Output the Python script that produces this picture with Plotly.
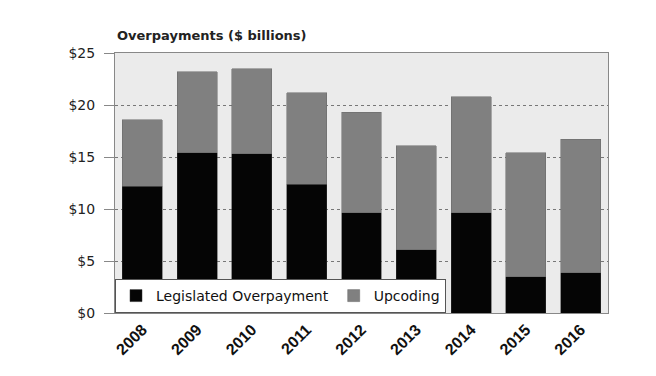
import plotly.graph_objects as go

years = ["2008", "2009", "2010", "2011", "2012", "2013", "2014", "2015", "2016"]
legislated = [12.2, 15.4, 15.3, 12.4, 9.65, 6.1, 9.65, 3.5, 3.85]
upcoding = [6.4, 7.8, 8.2, 8.8, 9.65, 10.0, 11.15, 11.9, 12.85]
y_ticks = [0, 5, 10, 15, 20, 25]
y_labels = ["$0", "$5", "$10", "$15", "$20", "$25"]

fig = go.Figure()
fig.add_trace(go.Bar(x=years, y=legislated, name="Legislated Overpayment",
                     marker=dict(color="#050505", line=dict(color="#333", width=0.5))))
fig.add_trace(go.Bar(x=years, y=upcoding, name="Upcoding",
                     marker=dict(color="#808080", line=dict(color="#666", width=0.5))))

fig.update_layout(
    barmode="stack",
    bargap=0.27,
    width=656, height=376,
    margin=dict(l=107, r=56, t=45, b=71),
    paper_bgcolor="white",
    plot_bgcolor="#ebebeb",
    font=dict(family="DejaVu Sans", color="#222"),
    showlegend=True,
    legend=dict(orientation="h", x=0.0, y=0.0, xanchor="left", yanchor="bottom",
                bgcolor="white", bordercolor="#555", borderwidth=1,
                font=dict(size=14, color="#111", family="DejaVu Sans"),
                traceorder="normal", itemwidth=30),
    annotations=[dict(text="<b>Overpayments ($ billions)</b>", x=0, xref="paper",
                      y=1.0, yref="paper", xanchor="left", yanchor="bottom",
                      yshift=8, showarrow=False,
                      font=dict(size=13, color="#222", family="DejaVu Sans"))],
)
fig.update_yaxes(range=[0, 25], tickvals=y_ticks, ticktext=y_labels,
                 showgrid=True, gridcolor="#777", griddash="dot", gridwidth=1,
                 tickfont=dict(size=14, color="#222", family="DejaVu Sans"),
                 ticks="outside", ticklen=10, tickcolor="#888",
                 ticklabelstandoff=6,
                 showline=True, linecolor="#888", mirror=True,
                 zeroline=False, automargin=False)
fig.update_xaxes(tickangle=-45,
                 tickfont=dict(size=16, color="#111", family="Liberation Sans"),
                 showline=True, linecolor="#888", mirror=True,
                 tickprefix="<b>", ticksuffix="</b>", automargin=False)

fig.write_html("out.html")
